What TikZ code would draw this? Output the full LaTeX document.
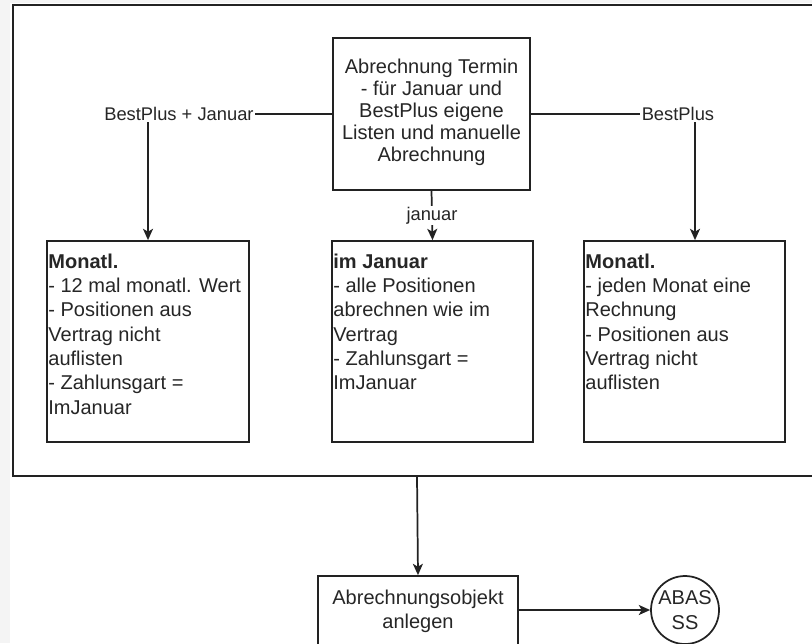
\documentclass[tikz,border=0pt]{standalone}
\usepackage{fontspec}
\setmainfont{Liberation Sans}
\usetikzlibrary{arrows.meta,calc}

\definecolor{ink}{HTML}{222222}
\definecolor{txt}{HTML}{262626}
\definecolor{pagebg}{HTML}{F4F4F4}

\begin{document}
\begin{tikzpicture}[x=0.75pt,y=-0.75pt,
  box/.style={draw=ink, line width=1.3pt, fill=white, rectangle, inner sep=0pt},
  boxtext/.style={font=\fontsize{15}{18.2}\selectfont, text=txt, align=left, inner sep=0pt, anchor=north west},
  lbl/.style={fill=white, inner sep=1pt, font=\fontsize{13.75}{16}\selectfont, text=txt},
  arr/.style={draw=ink, line width=1.3pt, -{Stealth[length=8.5pt,width=7.5pt,inset=2.2pt]}}
]
\useasboundingbox (0,0) rectangle (812,643);
\clip (0,0) rectangle (812,643);

% page background with the white drawing area
\fill[pagebg] (0,0) rectangle (812,643);
\fill[white] (10,3) rectangle (812,643);

% outer frame around the three billing variants
\node[draw=ink, line width=1.4pt, rectangle, inner sep=0pt,
      minimum width=606pt, minimum height=353.25pt] (frame) at (417,240.5) {};

% decision box
\node[box, minimum width=147.75pt, minimum height=114pt] (top) at (431.5,114) {};
\node[align=center, inner sep=0pt, font=\fontsize{15}{16.5}\selectfont, text=txt]
  (toptext) at ($(top.center)+(0,-2)$)
  {Abrechnung Termin\\- für Januar und\\BestPlus eigene\\Listen und manuelle\\Abrechnung};

% the three variants
\node[box, minimum width=151.5pt, minimum height=150.75pt] (left) at (148,341.5) {};
\node[box, minimum width=150.75pt, minimum height=150.75pt] (mid) at (432.5,341.5) {};
\node[box, minimum width=150.75pt, minimum height=150.75pt] (right) at (684.5,341.5) {};

\node[boxtext] (lefttext) at ($(left.north west)+(2,13.5)$)
  {\textbf{Monatl.}\\- 12 mal monatl. Wert\\- Positionen aus\\Vertrag nicht\\auflisten\\- Zahlunsgart =\\ImJanuar};
\node[boxtext] (midtext) at ($(mid.north west)+(2,13.5)$)
  {\textbf{im Januar}\\- alle Positionen\\abrechnen wie im\\Vertrag\\- Zahlunsgart =\\ImJanuar};
\node[boxtext] (righttext) at ($(right.north west)+(2,13.5)$)
  {\textbf{Monatl.}\\- jeden Monat eine\\Rechnung\\- Positionen aus\\Vertrag nicht\\auflisten};

% result
\node[box, minimum width=150pt, minimum height=52.5pt] (obj) at (418,611) {};
\node[align=center, inner sep=0pt, font=\fontsize{15}{18.2}\selectfont, text=txt]
  (objtext) at (obj.center) {Abrechnungsobjekt\\anlegen};
\node[draw=ink, line width=1.3pt, fill=white, circle, inner sep=0pt, minimum size=51pt,
      align=center, font=\fontsize{15}{18.5}\selectfont, text=txt] (abas) at (685,610)
  {ABAS\\SS};

\coordinate (rightin) at ($(right.north)+(10.5,0)$);

% connectors
\draw[arr] (top.west) -| node[lbl, pos=0.416] {BestPlus + Januar} (left.north);
\draw[arr] (top.east) -| node[lbl, pos=0.448] {BestPlus} (rightin);
\draw[arr] (top.south) -- node[lbl] {januar} (mid.north);
\draw[arr] (frame.south) -- (obj.north);
\draw[arr] (obj.east |- abas.west) -- (abas.west);
\end{tikzpicture}
\end{document}
